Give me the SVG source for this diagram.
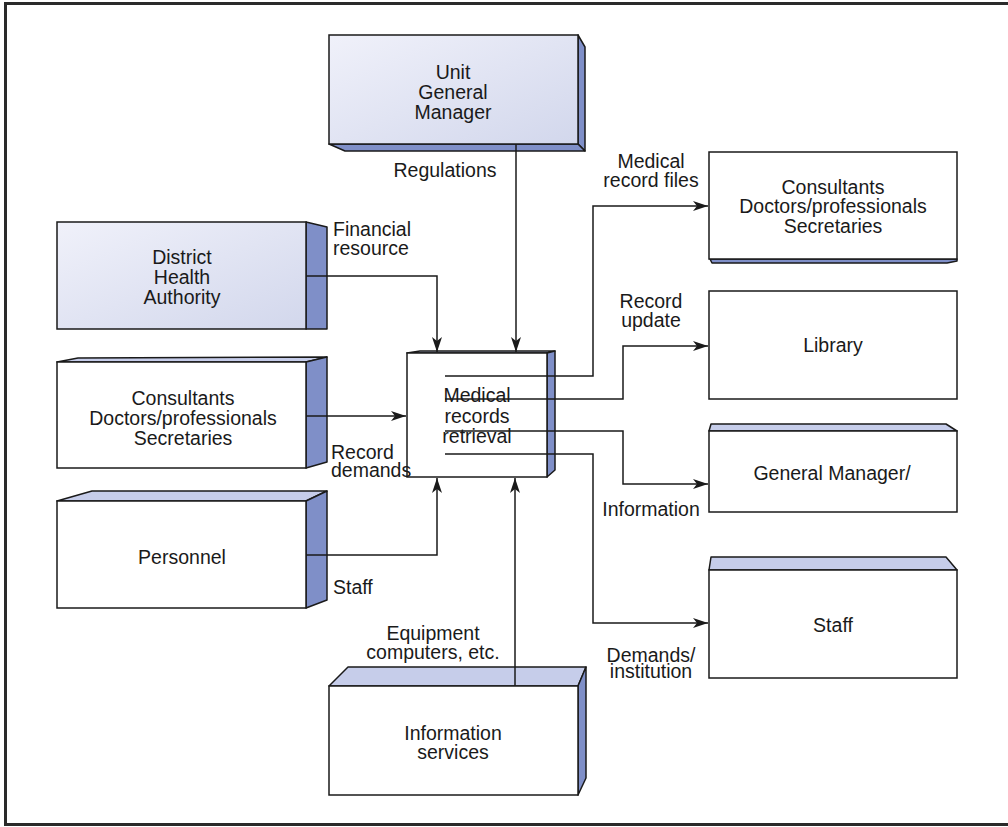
<svg xmlns="http://www.w3.org/2000/svg" width="1008" height="827" viewBox="0 0 1008 827">
<style>
text{font-family:"Liberation Sans",Arial,sans-serif;font-size:19.5px;fill:#1a1a1a}
.c{text-anchor:middle}
.front{stroke:#1a1a1a;stroke-width:1.5}
.w{fill:#fff}
.side{fill:#7f8fc8;stroke:#1a1a1a;stroke-width:1.5;stroke-linejoin:round}
.top{fill:#c6cdea;stroke:#1a1a1a;stroke-width:1.5;stroke-linejoin:round}
.conn{fill:none;stroke:#1a1a1a;stroke-width:1.5}
</style>
<defs>
<linearGradient id="g" x1="0" y1="0" x2="1" y2="1">
<stop offset="0" stop-color="#f0f1fa"/>
<stop offset="1" stop-color="#d2d7ec"/>
</linearGradient>
<marker id="a" markerWidth="16" markerHeight="10" refX="15" refY="5" orient="auto" markerUnits="userSpaceOnUse">
<path d="M0,0 L15,5 L0,10 L4,5 Z" fill="#1a1a1a"/>
</marker>
</defs>
<rect x="5.5" y="3.5" width="1010" height="821" fill="#fff" stroke="#2a2a2a" stroke-width="3"/>

<g id="unit-gm">
<polygon class="side" points="578,35 585,47 585,151 578,144"/>
<polygon class="side" points="329,144 578,144 585,151 345,151"/>
<rect class="front" x="329" y="35" width="249" height="109" fill="url(#g)"/>
<text class="c" x="453" y="79">Unit</text>
<text class="c" x="453" y="99">General</text>
<text class="c" x="453" y="119">Manager</text>
</g>

<g id="dha">
<polygon class="side" points="306,222 327,227 327,329 306,329"/>
<rect class="front" x="57" y="222" width="249" height="107" fill="url(#g)"/>
<text class="c" x="182" y="264">District</text>
<text class="c" x="182" y="284">Health</text>
<text class="c" x="182" y="304">Authority</text>
</g>

<g id="consultants-in">
<polygon class="top" points="57,362 78,358 327,357 306,362"/>
<polygon class="side" points="306,362 327,357 327,462 306,468"/>
<rect class="front w" x="57" y="362" width="249" height="106"/>
<text class="c" x="183" y="405">Consultants</text>
<text class="c" x="183" y="425">Doctors/professionals</text>
<text class="c" x="183" y="445">Secretaries</text>
</g>

<g id="personnel">
<polygon class="top" points="57,501 92,491 327,491 306,501"/>
<polygon class="side" points="306,501 327,491 327,600 306,608"/>
<rect class="front w" x="57" y="501" width="249" height="107"/>
<text class="c" x="182" y="564">Personnel</text>
</g>

<g id="medical-records">
<polygon class="top" points="407,353 420,351 555,351 547,353"/>
<polygon class="side" points="547,353 555,351 555,470 547,477"/>
<rect class="front w" x="407" y="353" width="140" height="124"/>
<text class="c" x="477" y="402">Medical</text>
<text class="c" x="477" y="423">records</text>
<text class="c" x="477" y="443">retrieval</text>
</g>

<g id="info-services">
<polygon class="top" points="329,686 348,667 586,667 578,686"/>
<polygon class="side" points="578,686 586,667 586,778 578,795"/>
<rect class="front w" x="329" y="686" width="249" height="109"/>
<text class="c" x="453" y="740">Information</text>
<text class="c" x="453" y="759">services</text>
</g>

<g id="consultants-out">
<polygon class="side" points="710,259 957,259 957,261 947,263 712,263"/>
<rect class="front w" x="709" y="152" width="248" height="107"/>
<text class="c" x="833" y="194">Consultants</text>
<text class="c" x="833" y="213">Doctors/professionals</text>
<text class="c" x="833" y="233">Secretaries</text>
</g>

<g id="library">
<rect class="front w" x="709" y="291" width="248" height="108"/>
<text class="c" x="833" y="352">Library</text>
</g>

<g id="general-manager">
<polygon class="top" points="709,431 711,424 946,424 957,431"/>
<rect class="front w" x="709" y="431" width="248" height="81"/>
<text class="c" x="832" y="480">General Manager/</text>
</g>

<g id="staff-out">
<polygon class="top" points="709,570 711,557 946,557 957,570"/>
<rect class="front w" x="709" y="570" width="248" height="108"/>
<text class="c" x="833" y="632">Staff</text>
</g>

<g id="connectors">
<path class="conn" d="M516,144 V352" marker-end="url(#a)"/>
<path class="conn" d="M306,276 H437 V352" marker-end="url(#a)"/>
<path class="conn" d="M306,416 H406" marker-end="url(#a)"/>
<path class="conn" d="M306,555 H437 V478" marker-end="url(#a)"/>
<path class="conn" d="M515,686 V478" marker-end="url(#a)"/>
<path class="conn" d="M445,376 H593 V206 H708" marker-end="url(#a)"/>
<path class="conn" d="M445,399 H623 V346 H708" marker-end="url(#a)"/>
<path class="conn" d="M445,431 H623 V484 H708" marker-end="url(#a)"/>
<path class="conn" d="M445,454 H593 V623 H708" marker-end="url(#a)"/>
</g>

<g id="labels">
<text class="c" x="445" y="177">Regulations</text>
<text x="333" y="236">Financial</text>
<text x="333" y="255">resource</text>
<text x="331" y="459">Record</text>
<text x="331" y="477">demands</text>
<text x="333" y="594">Staff</text>
<text class="c" x="433" y="640">Equipment</text>
<text class="c" x="433" y="659">computers, etc.</text>
<text class="c" x="651" y="168">Medical</text>
<text class="c" x="651" y="187">record files</text>
<text class="c" x="651" y="308">Record</text>
<text class="c" x="651" y="327">update</text>
<text class="c" x="651" y="516">Information</text>
<text class="c" x="651" y="662">Demands/</text>
<text class="c" x="651" y="678">institution</text>
</g>
</svg>
